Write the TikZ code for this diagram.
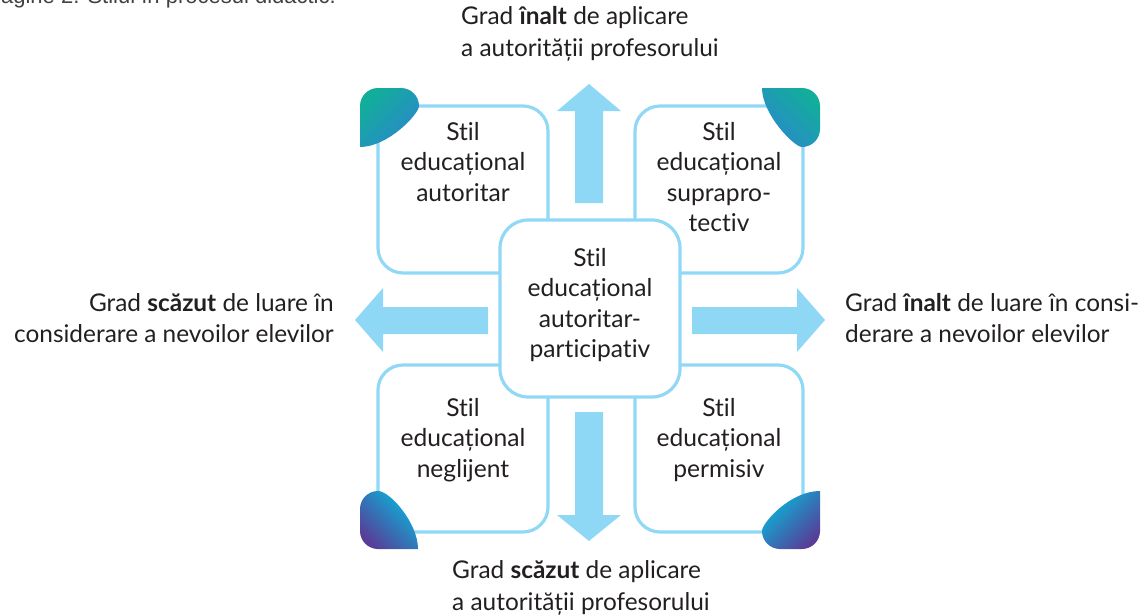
\documentclass[tikz,border=0pt]{standalone}
\usepackage{fontspec}
\setmainfont{Lato}[Ligatures={TeX,NoCommon}]
\newfontfamily\capfont{Liberation Sans}
\definecolor{txt}{HTML}{231F20}
\definecolor{lblue}{HTML}{91D8F6}
\definecolor{afill}{HTML}{8ED8F6}
\definecolor{teal1}{HTML}{12AE9A}
\definecolor{blue1}{HTML}{2A88CC}
\definecolor{cyan1}{HTML}{08B6DA}
\definecolor{purp1}{HTML}{573F99}
\tikzset{
  framebox/.style={draw=lblue, line width=3.2pt, rounded corners=25pt, inner sep=0pt, outer sep=0pt},
  boxtxt/.style={align=center, font=\fontsize{24.6}{30.5}\selectfont, text=txt, inner sep=0pt},
  sidetxt/.style={font=\fontsize{24.4}{31.5}\selectfont, text=txt, inner sep=0pt},
  blockarrow/.style={fill=afill},
}
\begin{document}
\begin{tikzpicture}[x=1pt,y=-1pt]
\useasboundingbox (0,0) rectangle (1144,616);
\clip (0,0) rectangle (1144,616);

% caption fragment (cut off at the top)
\node[anchor=base east, inner sep=0pt, font=\capfont\fontsize{22}{24}\selectfont, text=txt!85] (cap) at (336,3.5) {Imagine 2. Stilul în procesul didactic.};

% four outer boxes
\node[framebox, minimum width=170pt, minimum height=167pt] (tl) at (463,189.5) {};
\node[framebox, minimum width=168pt, minimum height=167pt] (tr) at (719,189.5) {};
\node[framebox, minimum width=170pt, minimum height=167pt] (bl) at (463,448.5) {};
\node[framebox, minimum width=168pt, minimum height=167pt] (br) at (719,448.5) {};

% leaves
\shade[top color=teal1, bottom color=blue1, shading angle=45]
  (360,147) [rounded corners=18pt] -- (360,88) -- (419,88) [sharp corners]
  .. controls (419,114) and (388,147) .. (360,147) -- cycle;
\shade[top color=teal1, bottom color=blue1, shading angle=-45]
  (762,88) [rounded corners=18pt] -- (820,88) -- (820,147) [sharp corners]
  .. controls (794,147) and (762,114) .. (762,88) -- cycle;
\shade[top color=cyan1, bottom color=purp1, shading angle=-45]
  (418,549) [rounded corners=18pt] -- (360,549) -- (360,491) [sharp corners]
  .. controls (390,491) and (418,523) .. (418,549) -- cycle;
\shade[top color=cyan1, bottom color=purp1, shading angle=45]
  (820,491) [rounded corners=18pt] -- (820,549) -- (762,549) [sharp corners]
  .. controls (762,523) and (790,491) .. (820,491) -- cycle;

% centre box
\node[framebox, fill=white, rounded corners=28pt, minimum width=180pt, minimum height=177pt] (c) at (590,308.5) {};

% block arrows
\fill[blockarrow] (575,203) -- (575,111) -- (557,111) -- (589,84) -- (621,111) -- (603,111) -- (603,203) -- cycle;
\fill[blockarrow] (575,412) -- (575,515) -- (557,515) -- (589,541) -- (621,515) -- (603,515) -- (603,412) -- cycle;
\fill[blockarrow] (488,307) -- (383,307) -- (383,288) -- (355,320) -- (383,352) -- (383,334) -- (488,334) -- cycle;
\fill[blockarrow] (692,307) -- (797,307) -- (797,288) -- (825,320) -- (797,352) -- (797,334) -- (692,334) -- cycle;

% box texts
\node[boxtxt] (tlt) at (463,162) {Stil\\educațional\\autoritar};
\node[boxtxt] (trt) at (719,177) {Stil\\educațional\\suprapro-\\tectiv};
\node[boxtxt] (ct) at (590,305) {Stil\\educațional\\autoritar-\\participativ};
\node[boxtxt] (blt) at (463,440) {Stil\\educațional\\neglijent};
\node[boxtxt] (brt) at (719,440) {Stil\\educațional\\permisiv};

% side texts
\node[sidetxt, align=left, anchor=west] (top) at (461,34) {Grad \textbf{înalt} de aplicare\\a autorității profesorului};
\node[sidetxt, align=left, anchor=west] (bot) at (452,588) {Grad \textbf{scăzut} de aplicare\\a autorității profesorului};
\node[sidetxt, align=right, anchor=east] (left) at (334,318) {Grad \textbf{scăzut} de luare în\\considerare a nevoilor elevilor};
\node[sidetxt, align=left, anchor=west] (right) at (845,318) {Grad \textbf{înalt} de luare în consi-\\derare a nevoilor elevilor};
\end{tikzpicture}
\end{document}
